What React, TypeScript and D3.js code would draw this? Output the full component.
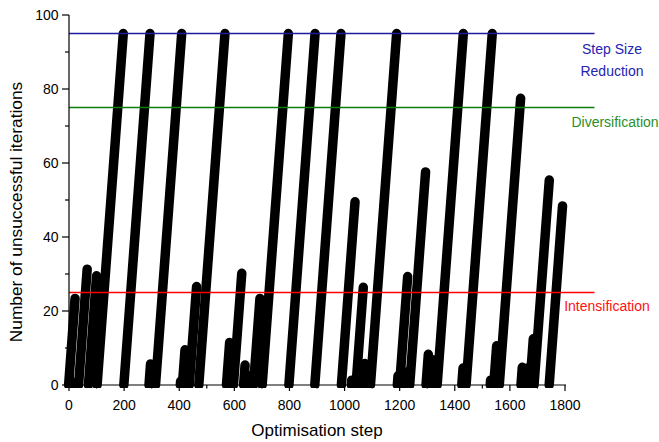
import React from "react";
import * as d3 from "d3";

// Each ramp: counter climbs by one per step from 0 to its peak value at peakStep.
const peakSteps = [8, 22, 66, 100, 197, 294, 296, 405, 409, 421, 463, 566, 583, 627, 639, 658, 693, 796, 893, 987, 1026, 1038, 1068, 1074, 1189, 1194, 1226, 1229, 1294, 1304, 1321, 1430, 1431, 1530, 1536, 1552, 1639, 1645, 1664, 1685, 1743, 1791];
const peakValues = [1, 23.4, 31.3, 29.5, 95, 95, 5.7, 1, 95, 9.5, 26.6, 95, 11.5, 30.2, 5.4, 2.5, 23.4, 95, 95, 95, 1.3, 49.5, 26.4, 5.8, 95, 2.5, 3.5, 29.3, 57.6, 8.3, 6.8, 4.6, 95, 1.3, 95, 10.6, 77.5, 4.8, 4.6, 12.5, 55.4, 48.4];

const xTicks = [0, 200, 400, 600, 800, 1000, 1200, 1400, 1600, 1800];
const xMinor = [100, 300, 500, 700, 900, 1100, 1300, 1500, 1700];
const yTicks = [0, 20, 40, 60, 80, 100];
const yMinor = [10, 30, 50, 70, 90];

const thresholdNames = ["Step Size Reduction", "Diversification", "Intensification"];
const thresholdValues = [95, 75, 25];
const thresholdLineColors = ["#1c1c9c", "#0c7c0c", "#ff0000"];
const thresholdTextColors = ["#2424b0", "#2a8f2a", "#ff1010"];
const lineEnd = 1907;

const FONT = "'Liberation Sans', Arial, sans-serif";

export default function App() {
  const x = d3.scaleLinear().domain([0, 1800]).range([69, 565]);
  const y = d3.scaleLinear().domain([0, 100]).range([385, 15]);

  const ramps = peakSteps.map((p, i) => ({
    x0: p - peakValues[i],
    x1: p,
    v: peakValues[i],
  }));

  const labelPos = [
    { lines: ["Step Size", "Reduction"], cx: 612, ys: [54, 76] },
    { lines: ["Diversification"], cx: 615, ys: [127] },
    { lines: ["Intensification"], cx: 607, ys: [311] },
  ];

  return (
    <svg
      width={659}
      height={442}
      style={{ position: "absolute", left: 0, top: 0, background: "#fff" }}
      fontFamily={FONT}
    >
      <defs>
        <clipPath id="plotclip">
          <rect x={0} y={0} width={659} height={388} />
        </clipPath>
      </defs>
      <g clipPath="url(#plotclip)">
        {ramps.map((r, i) => (
          <line
            key={i}
            x1={x(r.x0)}
            y1={y(0)}
            x2={x(r.x1)}
            y2={y(r.v)}
            stroke="#000"
            strokeWidth={9.5}
            strokeLinecap="round"
          />
        ))}
      </g>

      {thresholdValues.map((v, i) => (
        <line
          key={i}
          x1={x(0)}
          x2={x(lineEnd)}
          y1={y(v)}
          y2={y(v)}
          stroke={thresholdLineColors[i]}
          strokeWidth={1.6}
        />
      ))}

      {labelPos.map((lp, i) =>
        lp.lines.map((t, j) => (
          <text
            key={`${i}-${j}`}
            x={lp.cx}
            y={lp.ys[j]}
            textAnchor="middle"
            fontSize={14}
            fill={thresholdTextColors[i]}
          >
            {t}
          </text>
        ))
      )}

      {/* axes */}
      <line x1={x(0)} x2={x(0)} y1={y(0)} y2={y(100)} stroke="#000" strokeWidth={1.2} />
      <line x1={x(0)} x2={x(1800) + 1} y1={y(0)} y2={y(0)} stroke="#000" strokeWidth={1.2} />

      {yTicks.map((t) => (
        <g key={t}>
          <line x1={x(0) - 7} x2={x(0)} y1={y(t)} y2={y(t)} stroke="#000" strokeWidth={1.2} />
          <text x={58.5} y={y(t) + 5} textAnchor="end" fontSize={14} fill="#000">
            {t}
          </text>
        </g>
      ))}
      {yMinor.map((t) => (
        <line key={t} x1={x(0) - 4} x2={x(0)} y1={y(t)} y2={y(t)} stroke="#000" strokeWidth={1.2} />
      ))}

      {xTicks.map((t) => (
        <g key={t}>
          <line x1={x(t)} x2={x(t)} y1={y(0)} y2={y(0) + 6} stroke="#000" strokeWidth={1.2} />
          <text x={x(t)} y={410} textAnchor="middle" fontSize={14} fill="#000">
            {t}
          </text>
        </g>
      ))}
      {xMinor.map((t) => (
        <line key={t} x1={x(t)} x2={x(t)} y1={y(0)} y2={y(0) + 3.5} stroke="#000" strokeWidth={1.2} />
      ))}

      <text x={317} y={436} textAnchor="middle" fontSize={17} fill="#000">
        Optimisation step
      </text>
      <text
        transform={`translate(22,212) rotate(-90)`}
        textAnchor="middle"
        fontSize={17.3}
        fill="#000"
      >
        Number of unsuccessful iterations
      </text>
    </svg>
  );
}
